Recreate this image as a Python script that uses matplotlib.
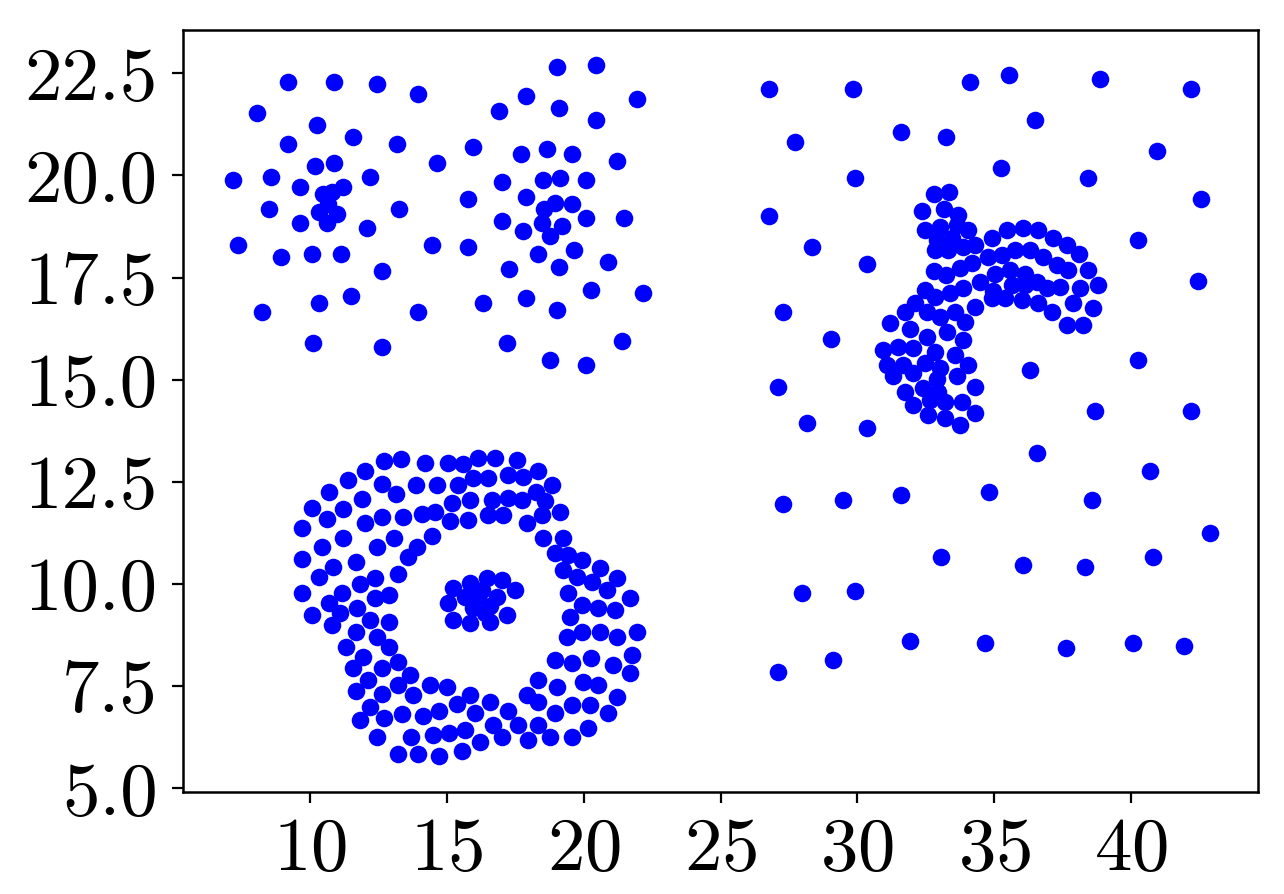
import matplotlib
matplotlib.use("Agg")
import numpy as np
import matplotlib.pyplot as plt

plt.rcParams["font.family"] = ["cmr10", "DejaVu Serif"]
plt.rcParams["axes.formatter.use_mathtext"] = True

# top-left blob
blob_a_x = [9.21, 10.88, 12.46, 13.95, 8.07, 10.27, 11.58, 9.21, 13.17, 14.64,
            10.17, 10.88, 7.20, 8.59, 12.19, 9.63, 11.22, 10.46, 10.79, 10.67,
            10.34, 11.00, 10.61, 8.50, 13.24, 9.63, 12.09, 7.37, 8.94, 10.08,
            11.13, 14.47, 12.62, 11.49, 10.34, 8.24, 13.95, 10.10, 12.63]
blob_a_y = [22.29, 22.29, 22.24, 22.00, 21.54, 21.23, 20.94, 20.76, 20.76, 20.30,
            20.24, 20.30, 19.89, 19.96, 19.96, 19.71, 19.73, 19.55, 19.60, 19.30,
            19.11, 19.06, 18.83, 19.17, 19.17, 18.83, 18.71, 18.30, 18.01, 18.08,
            18.08, 18.30, 17.66, 17.06, 16.89, 16.65, 16.65, 15.89, 15.79]

# top-middle blob
blob_b_x = [19.04, 20.44, 17.89, 21.94, 16.92, 19.11, 20.44, 15.97, 17.71, 18.67,
            19.56, 21.23, 17.02, 18.50, 19.14, 20.09, 15.78, 17.89, 18.95, 19.58,
            18.55, 18.47, 19.20, 18.77, 20.09, 21.48, 17.02, 17.79, 15.78, 18.32,
            19.65, 20.88, 17.28, 19.11, 20.27, 22.18, 16.31, 17.89, 19.04, 17.19,
            21.39, 18.77, 20.09]
blob_b_y = [22.65, 22.71, 21.94, 21.88, 21.58, 21.66, 21.36, 20.70, 20.53, 20.65,
            20.53, 20.36, 19.83, 19.89, 19.95, 19.89, 19.42, 19.48, 19.33, 19.30,
            19.17, 18.84, 18.77, 18.52, 18.95, 18.95, 18.89, 18.64, 18.24, 18.07,
            18.18, 17.89, 17.71, 17.77, 17.20, 17.12, 16.89, 17.01, 16.71, 15.89,
            15.95, 15.48, 15.36]

# ring, left half
ring_l_x = [12.72, 13.31, 14.20, 15.05, 15.58, 12.01, 11.40, 10.69, 12.62, 13.14,
            13.86, 14.63, 15.42, 10.09, 11.91, 11.22, 10.61, 15.18, 9.72, 12.01,
            12.64, 13.41, 14.08, 14.57, 15.12, 15.79, 11.22, 10.45, 12.46, 13.07,
            13.92, 14.47, 13.57, 9.72, 10.85, 11.67, 10.34, 13.23, 11.83, 12.38,
            9.72, 11.16, 10.69, 12.38, 12.89, 11.71, 11.10, 10.09, 10.79, 12.19,
            12.89, 11.67, 12.46, 11.30, 12.89, 11.92, 13.23, 11.56, 12.64, 13.65,
            12.11, 11.68, 13.23, 12.64, 13.78, 14.39, 14.99, 12.19, 11.83, 12.70,
            13.35, 14.14, 14.73, 15.36, 12.44, 13.68, 14.48, 15.09, 15.66, 13.23,
            13.93, 14.73, 15.54]
ring_l_y = [13.02, 13.06, 12.95, 12.95, 12.94, 12.77, 12.55, 12.24, 12.44, 12.20,
            12.42, 12.42, 12.42, 11.85, 12.07, 11.84, 11.59, 11.98, 11.36, 11.49,
            11.65, 11.65, 11.71, 11.77, 11.53, 11.57, 11.12, 10.90, 10.90, 11.12,
            10.90, 11.18, 10.65, 10.61, 10.41, 10.53, 10.18, 10.24, 10.00, 10.14,
            9.77, 9.79, 9.53, 9.65, 9.72, 9.41, 9.28, 9.24, 9.00, 9.12,
            9.06, 8.82, 8.71, 8.47, 8.47, 8.22, 8.10, 7.94, 7.95, 7.77,
            7.64, 7.37, 7.53, 7.31, 7.28, 7.53, 7.49, 7.00, 6.66, 6.71,
            6.82, 6.78, 6.88, 7.06, 6.26, 6.26, 6.31, 6.36, 6.43, 5.84,
            5.84, 5.79, 5.91]

# ring, right half
ring_r_x = [16.15, 16.76, 17.55, 18.34, 15.97, 16.52, 17.25, 17.79, 18.85, 15.85,
            16.64, 17.25, 17.73, 18.26, 18.59, 19.13, 16.52, 17.06, 17.92, 18.46,
            18.53, 19.26, 18.95, 19.44, 19.93, 20.60, 19.26, 19.74, 20.29, 21.20,
            20.84, 19.44, 19.93, 21.69, 20.53, 21.14, 19.50, 19.38, 19.93, 20.60,
            21.20, 21.94, 18.95, 19.56, 20.27, 21.06, 21.75, 21.69, 18.34, 19.01,
            19.99, 20.53, 17.92, 18.34, 19.56, 20.23, 21.20, 20.90, 18.95, 15.85,
            16.58, 16.03, 17.25, 16.70, 17.61, 18.34, 16.21, 17.00, 17.98, 18.77,
            19.56, 20.17]
ring_r_y = [13.08, 13.08, 13.04, 12.77, 12.59, 12.59, 12.67, 12.63, 12.42, 12.06,
            12.06, 12.10, 12.06, 12.26, 12.02, 11.77, 11.69, 11.69, 11.49, 11.69,
            11.12, 11.12, 10.75, 10.71, 10.59, 10.38, 10.34, 10.18, 10.06, 10.14,
            9.85, 9.77, 9.49, 9.65, 9.41, 9.36, 9.20, 8.71, 8.83, 8.83,
            8.71, 8.83, 8.14, 8.06, 8.18, 8.02, 8.26, 7.81, 7.65, 7.49,
            7.61, 7.53, 7.28, 7.12, 7.04, 7.04, 7.24, 6.84, 6.84, 7.28,
            7.12, 6.84, 6.88, 6.55, 6.55, 6.55, 6.14, 6.26, 6.18, 6.26,
            6.26, 6.47]

# small blob inside the ring
core_x = [15.85, 16.45, 17.00, 17.49, 15.66, 16.15, 16.82, 15.97, 16.58, 17.19,
          15.85, 16.58, 15.24, 15.05, 15.24, 16.30, 16.40]
core_y = [10.02, 10.14, 10.10, 9.85, 9.69, 9.69, 9.69, 9.41, 9.45, 9.24,
          9.04, 9.08, 9.89, 9.53, 9.12, 9.85, 9.30]

# two interleaved moons
moon_x = [32.80, 33.36, 32.37, 33.16, 33.69, 32.47, 33.02, 33.63, 34.05, 32.90,
          33.44, 34.30, 34.91, 35.45, 36.06, 36.61, 37.16, 37.65, 38.11, 32.84,
          33.32, 33.87, 34.78, 35.27, 35.76, 36.31, 36.79, 37.28, 37.71, 38.44,
          38.80, 32.80, 33.24, 33.75, 34.18, 35.03, 35.58, 36.12, 36.55, 36.92,
          37.40, 38.13, 32.47, 32.84, 33.38, 33.87, 34.48, 34.97, 35.64, 36.12,
          34.30, 34.91, 35.39, 36.00, 36.61, 37.10, 37.89, 38.62, 37.65, 38.26,
          31.74, 32.11, 32.53, 33.02, 33.57, 33.93, 31.19, 31.92, 32.53, 33.26,
          33.87, 30.95, 31.50, 32.04, 32.84, 33.57, 31.07, 31.68, 32.47, 33.02,
          34.05, 31.31, 32.04, 32.90, 33.63, 31.74, 32.41, 32.96, 34.30, 32.04,
          32.65, 33.20, 33.81, 32.59, 33.20, 34.30, 33.75]
moon_y = [19.54, 19.60, 19.13, 19.18, 19.03, 18.67, 18.75, 18.79, 18.67, 18.42,
          18.46, 18.30, 18.46, 18.67, 18.72, 18.67, 18.46, 18.30, 18.07, 18.18,
          18.18, 18.26, 18.01, 18.05, 18.18, 18.18, 18.01, 17.81, 17.69, 17.69,
          17.32, 17.65, 17.56, 17.73, 17.85, 17.60, 17.69, 17.60, 17.40, 17.24,
          17.28, 17.24, 17.20, 17.03, 17.12, 17.24, 17.40, 17.16, 17.32, 17.32,
          16.79, 16.99, 16.99, 16.95, 16.87, 16.67, 16.87, 16.76, 16.34, 16.34,
          16.67, 16.87, 16.67, 16.54, 16.67, 16.42, 16.38, 16.24, 16.05, 16.18,
          15.97, 15.73, 15.81, 15.77, 15.69, 15.61, 15.36, 15.36, 15.40, 15.28,
          15.36, 15.08, 15.16, 15.03, 15.08, 14.71, 14.79, 14.71, 14.83, 14.38,
          14.50, 14.46, 14.46, 14.14, 14.06, 14.18, 13.89]

# sparse background points on the right
noise_x = [26.77, 29.83, 34.12, 35.53, 38.87, 42.19, 27.72, 31.58, 33.24, 36.49,
           40.96, 29.91, 35.26, 38.42, 26.77, 42.55, 28.33, 30.34, 40.27, 42.46,
           27.29, 29.03, 40.27, 36.31, 27.11, 38.68, 42.19, 28.15, 30.34, 36.58,
           40.69, 27.29, 29.46, 31.58, 34.82, 38.59, 42.89, 33.06, 36.04, 38.32,
           40.79, 27.99, 29.91, 31.92, 34.66, 37.62, 40.08, 41.94, 29.12, 27.11]
noise_y = [22.12, 22.12, 22.29, 22.46, 22.35, 22.12, 20.83, 21.06, 20.95, 21.36,
           20.60, 19.95, 20.18, 19.95, 19.01, 19.42, 18.24, 17.83, 18.42, 17.42,
           16.65, 16.00, 15.48, 15.24, 14.83, 14.24, 14.24, 13.94, 13.83, 13.21,
           12.77, 11.95, 12.06, 12.18, 12.25, 12.06, 11.24, 10.66, 10.47, 10.41,
           10.66, 9.78, 9.83, 8.61, 8.55, 8.43, 8.55, 8.49, 8.14, 7.84]

groups = [(blob_a_x, blob_a_y), (blob_b_x, blob_b_y), (ring_l_x, ring_l_y),
          (ring_r_x, ring_r_y), (core_x, core_y), (moon_x, moon_y),
          (noise_x, noise_y)]
x = np.concatenate([np.array(g[0]) for g in groups])
y = np.concatenate([np.array(g[1]) for g in groups])

fig = plt.figure(figsize=(6.42, 4.47), dpi=200)
ax = fig.add_axes([0.1423, 0.1137, 0.8377, 0.8527])
ax.scatter(x, y, s=40, c="#0000ff", linewidths=0)

ax.set_xlim(5.35, 44.65)
ax.set_ylim(4.90, 23.56)
ax.set_xticks([10, 15, 20, 25, 30, 35, 40])
ax.set_yticks([5.0, 7.5, 10.0, 12.5, 15.0, 17.5, 20.0, 22.5])
ax.set_yticklabels(["5.0", "7.5", "10.0", "12.5", "15.0", "17.5", "20.0", "22.5"])
ax.tick_params(labelsize=27, length=4, width=0.8, pad=5)
for s in ax.spines.values():
    s.set_linewidth(0.9)

fig.savefig("out.png", dpi=200)
